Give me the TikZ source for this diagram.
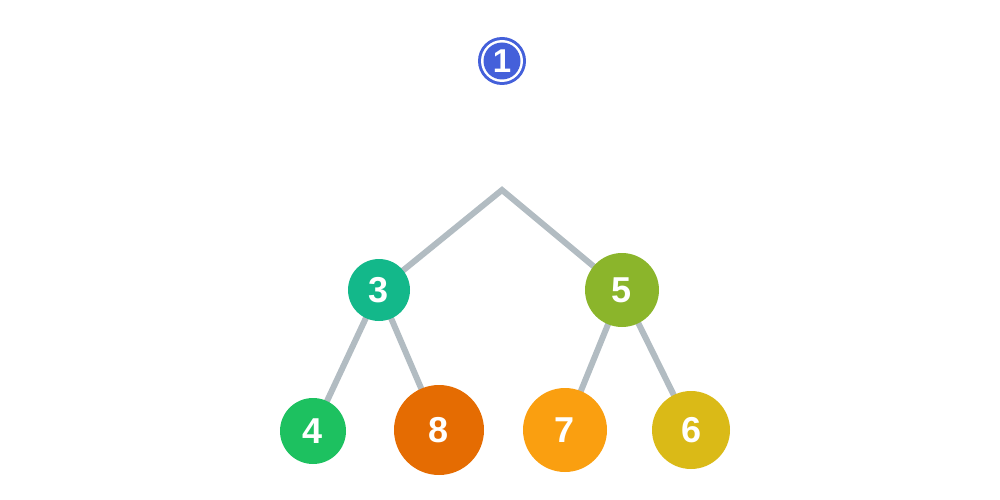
\documentclass[tikz,border=0pt]{standalone}
\usepackage{fontspec}
\setmainfont{Liberation Sans}
\begin{document}
\begin{tikzpicture}[x=1pt,y=-1pt,
  edge/.style={draw=edgegray,line width=6pt,line join=miter},
  ball/.style={circle,inner sep=0pt,minimum size=#1,text=white,
    font=\fontsize{36}{36}\selectfont\bfseries}]
\definecolor{edgegray}{HTML}{B2BCC2}
\definecolor{cteal}{HTML}{13B88A}
\definecolor{colive}{HTML}{8BB52B}
\definecolor{cgreen}{HTML}{1DC160}
\definecolor{corange}{HTML}{E56C02}
\definecolor{camber}{HTML}{FA9F10}
\definecolor{cmustard}{HTML}{DABA17}
\definecolor{cblue}{HTML}{4460DA}
\useasboundingbox (0,0) rectangle (1000,500);

% circled number marker
\node[circle,fill=cblue,minimum size=48pt,inner sep=0pt] (markout) at (502,61) {};
\node[circle,fill=white,minimum size=42pt,inner sep=0pt] (markring) at (markout) {};
\node[circle,fill=cblue,minimum size=37pt,inner sep=0pt,text=white,
  font=\fontsize{33}{33}\selectfont\bfseries] (mark) at (markout) {1};

% edges, drawn first so the nodes cover their ends
\coordinate (apex) at (502,190);
\coordinate (p3) at (379,290);
\coordinate (p5) at (622,290);
\coordinate (p4) at (313,431);
\coordinate (p8) at (439,430);
\coordinate (p7) at (565,430);
\coordinate (p6) at (691,430);
\path[edge] (p3) -- (apex) -- (p5);
\path[edge] (p3) -- (p4);
\path[edge] (p3) -- (p8);
\path[edge] (p5) -- (p7);
\path[edge] (p5) -- (p6);

% tree nodes
\node[ball=62pt,fill=cteal]    (n3) at (p3) {3};
\node[ball=74pt,fill=colive]   (n5) at (p5) {5};
\node[ball=66pt,fill=cgreen]   (n4) at (p4) {4};
\node[ball=90pt,fill=corange]  (n8) at (p8) {8};
\node[ball=84pt,fill=camber]   (n7) at (p7) {7};
\node[ball=78pt,fill=cmustard] (n6) at (p6) {6};
\end{tikzpicture}
\end{document}
